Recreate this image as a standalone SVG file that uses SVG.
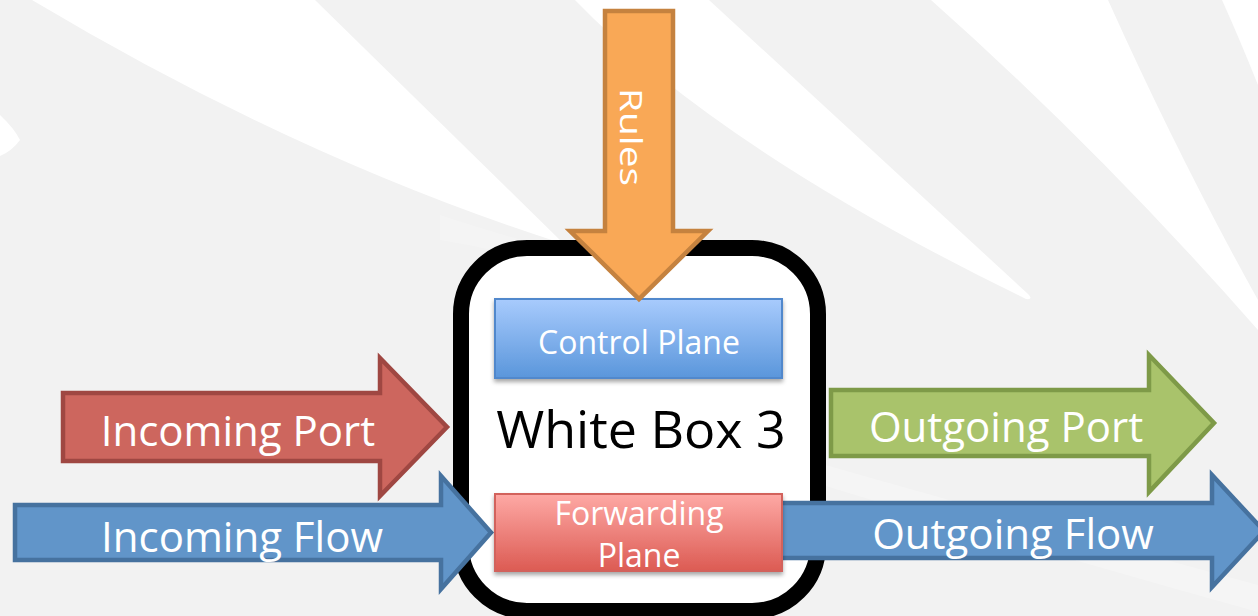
<svg xmlns="http://www.w3.org/2000/svg" width="1258" height="616" viewBox="0 0 1258 616">
  <defs>
    <linearGradient id="cpGrad" x1="0" y1="0" x2="0" y2="1">
      <stop offset="0" stop-color="#a8cbfd"/>
      <stop offset="1" stop-color="#5a96db"/>
    </linearGradient>
    <linearGradient id="fpGrad" x1="0" y1="0" x2="0" y2="1">
      <stop offset="0" stop-color="#fea9a5"/>
      <stop offset="1" stop-color="#dc5b53"/>
    </linearGradient>
    <filter id="shadow" x="-5%" y="-10%" width="110%" height="130%">
      <feDropShadow dx="0" dy="3" stdDeviation="2" flood-color="#000" flood-opacity="0.35"/>
    </filter>
  </defs>
  <style>
    .label { font-family: "Open Sans", "Liberation Sans", sans-serif; fill: #ffffff; text-anchor: middle; }
    .big { font-size: 42px; }
    .plane { font-size: 32px; }
    .swoosh { fill: #ffffff; }
    .arrow { stroke-width: 4.5; stroke-linejoin: miter; }
  </style>

  <!-- backdrop with soft white swooshes -->
  <g id="background">
    <rect x="0" y="0" width="1258" height="616" fill="#f2f2f2"/>
    <path class="swoosh" d="M32,0 L315,0 L564,244 Q300,160 32,0 Z"/>
    <path class="swoosh" d="M0,115 Q14,128 20,140 Q12,151 0,156 Z"/>
    <path class="swoosh" d="M575,0 L709,0 L1028,294 Q1034,300 1026,299 Q720,150 575,0 Z"/>
    <path class="swoosh" d="M931,0 L1108,0 Q1180,160 1258,300 L1258,330 Q1100,150 931,0 Z"/>
    <path class="swoosh" d="M1222,0 L1258,0 L1258,85 Q1240,40 1222,0 Z"/>
    <path class="swoosh" opacity="0.25" d="M780,452 Q1000,515 1258,585 L1258,612 Q1000,540 780,472 Z"/>
    <path class="swoosh" opacity="0.18" d="M440,215 Q500,235 560,250 L540,262 Q490,248 440,240 Z"/>
  </g>

  <!-- the switch itself -->
  <g id="white-box">
    <rect x="461" y="248" width="357" height="363" rx="66" ry="66" fill="#ffffff" stroke="#000000" stroke-width="16"/>
    <text x="641" y="448" font-family="'Open Sans', 'Liberation Sans', sans-serif" font-size="52" fill="#000000" text-anchor="middle">White Box 3</text>
  </g>

  <g id="control-plane">
    <rect x="495" y="299" width="287" height="79" fill="url(#cpGrad)" stroke="#5188cc" stroke-width="2" filter="url(#shadow)"/>
    <text class="label plane" x="639" y="354">Control Plane</text>
  </g>

  <!-- block arrows -->
  <g id="connectors">
    <g id="rules">
      <path class="arrow" d="M605,11 H673 V231 H708 L639,299 L570,231 H605 Z" fill="#f9a856" stroke="#c5823f"/>
      <text class="label" font-size="31" transform="translate(620,137) rotate(90)" textLength="98" lengthAdjust="spacingAndGlyphs">Rules</text>
    </g>
    <g id="incoming-port">
      <path class="arrow" d="M63,393 H380 V358 L447,427 L380,496 V461 H63 Z" fill="#cd665e" stroke="#9f4742"/>
      <text class="label big" x="238" y="446">Incoming Port</text>
    </g>
    <g id="incoming-flow">
      <path class="arrow" d="M15,505 H441 V476 L491,532.5 L441,589 V560 H15 Z" fill="#6195c9" stroke="#46729f"/>
      <text class="label big" x="242" y="552">Incoming Flow</text>
    </g>
    <g id="outgoing-port">
      <path class="arrow" d="M831,390 H1149 V355 L1214,423 L1149,492 V456 H831 Z" fill="#a9c36b" stroke="#7e9a48"/>
      <text class="label big" x="1006" y="442">Outgoing Port</text>
    </g>
    <g id="outgoing-flow">
      <path class="arrow" d="M770,503 H1212 V475 L1264,531 L1212,587 V558 H770 Z" fill="#6195c9" stroke="#46729f"/>
      <text class="label big" x="1013" y="549">Outgoing Flow</text>
    </g>
  </g>

  <g id="forwarding-plane">
    <rect x="495" y="494" width="287" height="77" fill="url(#fpGrad)" stroke="#d2625c" stroke-width="2" filter="url(#shadow)"/>
    <text class="label plane" x="639" y="525">Forwarding</text>
    <text class="label plane" x="639" y="567">Plane</text>
  </g>
</svg>
